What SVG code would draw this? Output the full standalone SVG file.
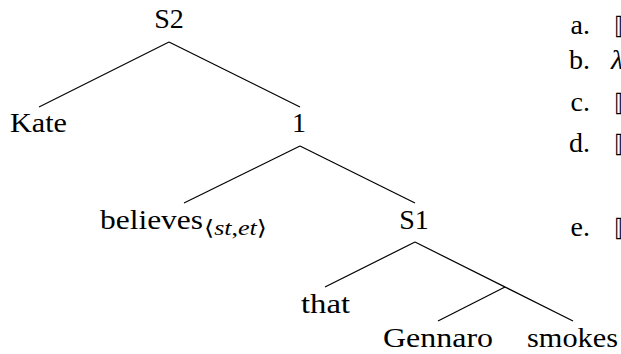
<svg xmlns="http://www.w3.org/2000/svg" width="621" height="354" viewBox="0 0 621 354">
<style>
text{font-family:"Liberation Serif","DejaVu Serif",serif;font-size:28px;fill:#000}
.m{text-anchor:middle}
.e{text-anchor:end}
.sub{font-size:21px}
.it{font-style:italic}
.br{font-family:"DejaVu Sans","Noto Sans",sans-serif;font-size:24px}
#edges line{stroke:#000;stroke-width:1.2}
</style>
<rect width="621" height="354" fill="#fff"/>
<g id="edges">
<line x1="169" y1="42" x2="39" y2="107"/>
<line x1="169" y1="42" x2="300" y2="107"/>
<line x1="300" y1="146" x2="184" y2="203"/>
<line x1="300" y1="146" x2="415" y2="203"/>
<line x1="415" y1="242" x2="325" y2="287"/>
<line x1="415" y1="242" x2="573" y2="321"/>
<line x1="505" y1="287" x2="438" y2="321"/>
</g>
<g id="S2"><text class="m" x="169" y="28">S2</text></g>
<g id="Kate"><text x="10" y="132" textLength="57" lengthAdjust="spacingAndGlyphs">Kate</text></g>
<g id="n1"><text class="m" x="299" y="132">1</text></g>
<g id="believes"><text x="100" y="229" textLength="103" lengthAdjust="spacingAndGlyphs">believes</text><text class="sub" x="204" y="235" textLength="63" lengthAdjust="spacingAndGlyphs">⟨<tspan class="it">st</tspan>,<tspan class="it">et</tspan>⟩</text></g>
<g id="S1"><text class="m" x="414" y="229">S1</text></g>
<g id="that"><text x="301" y="313" textLength="49" lengthAdjust="spacingAndGlyphs">that</text></g>
<g id="Gennaro"><text x="383" y="347" textLength="110" lengthAdjust="spacingAndGlyphs">Gennaro</text></g>
<g id="smokes"><text x="527" y="347" textLength="91" lengthAdjust="spacingAndGlyphs">smokes</text></g>
<g id="list">
<text class="e" x="590" y="34">a.</text><text class="br" x="614" y="34">⟦</text>
<text class="e" x="590" y="69">b.</text><text class="it" x="611" y="69">λ</text>
<text class="e" x="590" y="111">c.</text><text class="br" x="614" y="111">⟦</text>
<text class="e" x="590" y="152">d.</text><text class="br" x="614" y="152">⟦</text>
<text class="e" x="590" y="236">e.</text><text class="br" x="614" y="236">⟦</text>
</g>
</svg>
